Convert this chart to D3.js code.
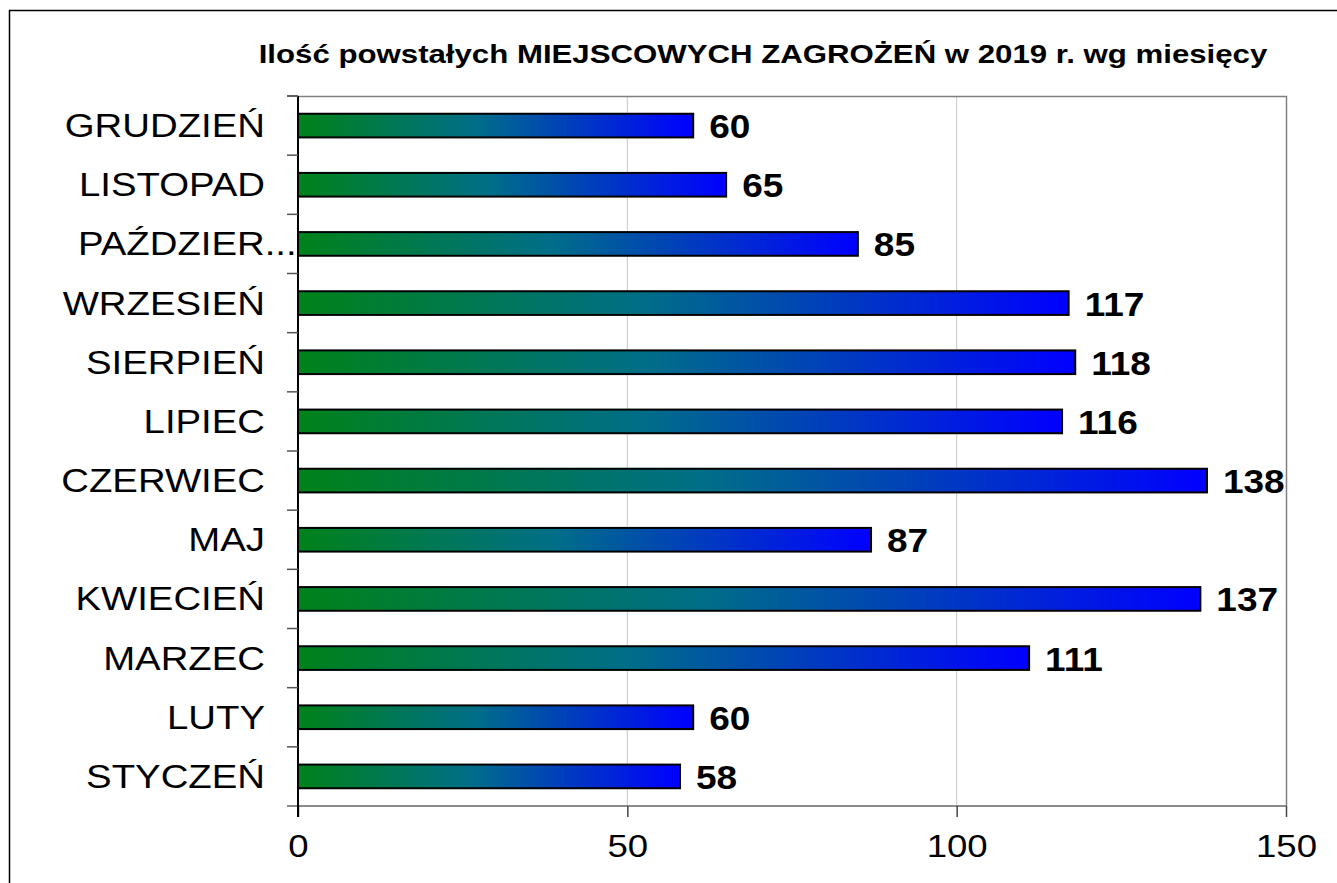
<!DOCTYPE html>
<html>
<head>
<meta charset="utf-8">
<script src="https://cdn.jsdelivr.net/npm/d3@7"></script>
<style>
  body { margin: 0; background: #fff; overflow: hidden; }
  svg { display: block; }
  text { font-family: "Liberation Sans", Arial, sans-serif; }
</style>
</head>
<body>
<script>
const width = 1337,
      height = 883;

// data
const months = ["STYCZEŃ", "LUTY", "MARZEC", "KWIECIEŃ", "MAJ", "CZERWIEC",
                "LIPIEC", "SIERPIEŃ", "WRZESIEŃ", "PAŹDZIERNIK", "LISTOPAD", "GRUDZIEŃ"];
const counts = [58, 60, 111, 137, 87, 138, 116, 118, 117, 85, 65, 60];
const xTicks = [0, 50, 100, 150];
const title = "Ilość powstałych MIEJSCOWYCH ZAGROŻEŃ w 2019 r. wg miesięcy";

const margin = {top: 96, right: 51, bottom: 77, left: 298};
const sx = 1.18; // the source text looks a bit stretched sideways

const svg = d3.select("body")
    .append("svg")
    .attr("width", width)
    .attr("height", height);

// outer frame, only left and top edges are in view
svg.append("path")
    .attr("d", `M9.5,${height}V10.5H${width}`)
    .attr("fill", "none")
    .attr("stroke", "#000")
    .attr("stroke-width", 1.5);

const grad = svg.append("defs").append("linearGradient")
    .attr("id", "barGrad")
    .attr("x1", 0).attr("x2", 1).attr("y1", 0).attr("y2", 0);
grad.append("stop").attr("offset", "0%").attr("stop-color", "#00821a");
grad.append("stop").attr("offset", "45%").attr("stop-color", "#006e88");
grad.append("stop").attr("offset", "100%").attr("stop-color", "#0000ff");

const x = d3.scaleLinear()
    .domain([0, 150])
    .range([margin.left, width - margin.right]);

const y = d3.scaleBand()
    .domain(months.slice().reverse())
    .range([margin.top, height - margin.bottom])
    .paddingInner(0.6)
    .paddingOuter(0.3);

const plotTop = margin.top,
      plotBottom = height - margin.bottom;

// gridlines
svg.append("g")
    .selectAll("line")
    .data(xTicks.slice(1, -1))
    .enter().append("line")
    .attr("x1", d => x(d)).attr("x2", d => x(d))
    .attr("y1", plotTop).attr("y2", plotBottom)
    .attr("stroke", "#c8c8c8")
    .attr("stroke-width", 1);

// plot border top / right
svg.append("path")
    .attr("d", `M${x(0)},${plotTop + 0.5}H${x(150) + 0.5}V${plotBottom}`)
    .attr("fill", "none")
    .attr("stroke", "#808080")
    .attr("stroke-width", 1.5);

// bars
svg.append("g")
    .selectAll("rect")
    .data(counts)
    .enter().append("rect")
    .attr("x", x(0))
    .attr("y", (d, i) => y(months[i]))
    .attr("width", d => x(d) - x(0))
    .attr("height", y.bandwidth())
    .attr("fill", "url(#barGrad)")
    .attr("stroke", "#000")
    .attr("stroke-width", 2);

// x axis
const xAxis = svg.append("g")
    .attr("transform", `translate(0,${plotBottom})`)
    .call(d3.axisBottom(x).tickValues(xTicks).tickSize(11).tickPadding(18));
xAxis.select(".domain").attr("stroke", "#666").attr("stroke-width", 1.5)
    .attr("d", `M${x(0) - 11},0H${x(150)}`);
xAxis.selectAll(".tick line").attr("stroke", "#444").attr("stroke-width", 1.5);
xAxis.selectAll(".tick text").remove();
xAxis.selectAll(".tick")
    .append("g")
    .attr("transform", `translate(0,51) scale(${sx},1)`)
    .append("text")
    .attr("text-anchor", "middle")
    .attr("font-size", 31)
    .attr("fill", "#000")
    .text(d => d);

// y axis line + ticks at band edges
svg.append("line")
    .attr("x1", x(0)).attr("x2", x(0))
    .attr("y1", plotTop).attr("y2", plotBottom + 11)
    .attr("stroke", "#000").attr("stroke-width", 2);
const edges = months.map(m => y(m) - y.step() * y.paddingInner() / 2);
edges.push(plotTop);
svg.append("g")
    .selectAll("line")
    .data(edges)
    .enter().append("line")
    .attr("x1", x(0) - 11).attr("x2", x(0))
    .attr("y1", d => d).attr("y2", d => d)
    .attr("stroke", "#555").attr("stroke-width", 1.5);

// category labels, long ones get cut with "..."
const labelRight = 265,
      labelLeft = 50;
const labels = svg.append("g")
    .selectAll("g")
    .data(months)
    .enter().append("g");
labels.each(function(m) {
  const g = d3.select(this);
  const cy = y(m) + y.bandwidth() / 2 + 11.5;
  const t = g.append("text")
      .attr("font-size", 32.5)
      .attr("fill", "#000")
      .text(m);
  const avail = labelRight - labelLeft;
  if (t.node().getComputedTextLength() * sx > avail) {
    let s = m;
    while (s.length > 1 && t.text(s + "...").node().getComputedTextLength() * sx > 222) {
      s = s.slice(0, -1);
    }
    t.attr("text-anchor", "start");
    g.attr("transform", `translate(78,${cy}) scale(${sx},1)`);
  } else {
    t.attr("text-anchor", "end");
    g.attr("transform", `translate(${labelRight},${cy}) scale(${sx},1)`);
  }
});

// value labels
svg.append("g")
    .selectAll("g")
    .data(counts)
    .enter().append("g")
    .attr("transform", (d, i) => `translate(${x(d) + 16},${y(months[i]) + y.bandwidth() / 2 + 12.5}) scale(${sx * 0.95},1)`)
    .append("text")
    .attr("font-size", 33)
    .attr("font-weight", "bold")
    .attr("fill", "#000")
    .text(d => d);

// title
svg.append("g")
    .attr("transform", `translate(763,63) scale(1.2,1)`)
    .append("text")
    .attr("text-anchor", "middle")
    .attr("font-size", 26)
    .attr("font-weight", "bold")
    .attr("fill", "#000")
    .text(title);
</script>
</body>
</html>
